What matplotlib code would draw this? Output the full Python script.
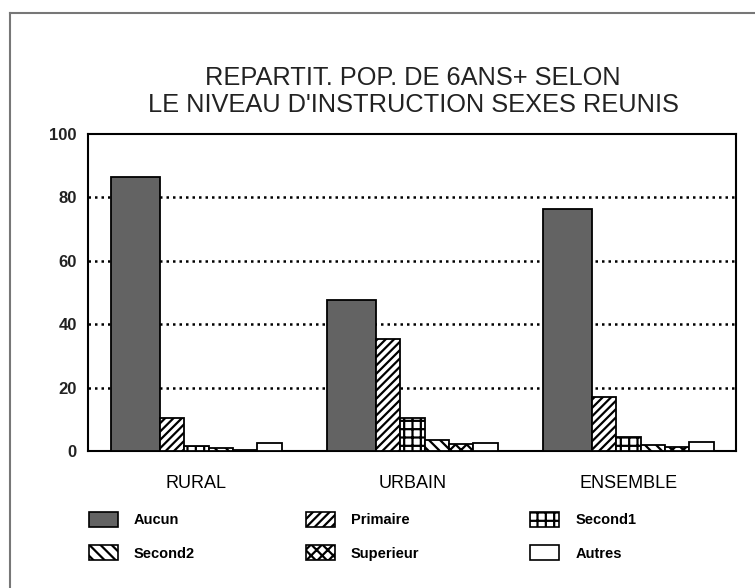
import matplotlib
matplotlib.use('Agg')
import matplotlib.pyplot as plt
from matplotlib.patches import Patch
from matplotlib.lines import Line2D
import numpy as np

plt.rc('font', family=['Liberation Sans', 'DejaVu Sans'])
plt.rc('hatch', linewidth=1.6)

groups = ['RURAL', 'URBAIN', 'ENSEMBLE']
levels = ['Aucun', 'Primaire', 'Second1', 'Second2', 'Superieur', 'Autres']

aucun     = [86.5, 47.7, 76.2]
primaire  = [10.3, 35.3, 17.0]
second1   = [1.5, 10.4, 4.3]
second2   = [0.8, 3.4, 1.8]
superieur = [0.3, 2.3, 1.3]
autres    = [2.4, 2.5, 2.8]
series = [aucun, primaire, second1, second2, superieur, autres]

yticks = [0, 20, 40, 60, 80, 100]

# look of each level: face colour, hatch, width (in bar units)
faces   = ['#636363', 'white', 'white', 'white', 'white', 'white']
hatches = [None, '////', '++', '\\\\\\', 'xxx', None]
widths  = [2, 1, 1, 1, 1, 1]

fig = plt.figure(figsize=(7.55, 5.88), dpi=100)
ax = fig.add_axes([0.1166, 0.233, 0.858, 0.539])

gspace = 8.85
for g in range(len(groups)):
    x = g * gspace
    for k in range(len(levels)):
        ax.bar(x, series[k][g], width=widths[k], align='edge',
               color=faces[k], hatch=hatches[k], edgecolor='black',
               linewidth=1.3, zorder=3)
        x += widths[k]

centers = [g * gspace + sum(widths) / 2.0 for g in range(len(groups))]
ax.set_xticks(centers)
ax.set_xticklabels(groups, fontsize=13)
ax.set_xlim(-0.94, 2 * gspace + sum(widths) + 0.9)

ax.set_ylim(0, 100)
ax.set_yticks(yticks)
ax.set_yticklabels([str(v) for v in yticks], fontsize=12, fontweight='bold',
                   color='#222222')
ax.tick_params(length=0, pad=8)
ax.tick_params(axis='x', pad=17)
for v in yticks[1:-1]:
    ax.axhline(v, color='black', lw=1.8, ls=(0, (1, 1.6)), zorder=1)
for s in ax.spines.values():
    s.set_linewidth(1.5)

fig.text(0.547, 0.868, 'REPARTIT. POP. DE 6ANS+ SELON', ha='center',
         va='center', fontsize=18.3, color='#222222')
fig.text(0.547, 0.822, "LE NIVEAU D'INSTRUCTION SEXES REUNIS", ha='center',
         va='center', fontsize=18.3, color='#222222')

handles = [Patch(facecolor=faces[k], edgecolor='black', hatch=hatches[k],
                 linewidth=1.2, label=levels[k]) for k in range(len(levels))]
order = [0, 3, 1, 4, 2, 5]
fig.legend([handles[i] for i in order], [levels[i] for i in order],
           ncol=3, loc='center left', bbox_to_anchor=(0.1, 0.088),
           frameon=False, prop={'size': 10.5, 'weight': 'bold'},
           handlelength=2.0, handleheight=1.2, columnspacing=7.6,
           labelspacing=1.25, handletextpad=1.1)

# scanned page frame
fig.add_artist(Line2D([0.013, 0.013], [0.0, 0.978], color='#777777', lw=1.5))
fig.add_artist(Line2D([0.013, 1.0], [0.978, 0.978], color='#777777', lw=1.5))

fig.savefig('out.png', dpi=100)
